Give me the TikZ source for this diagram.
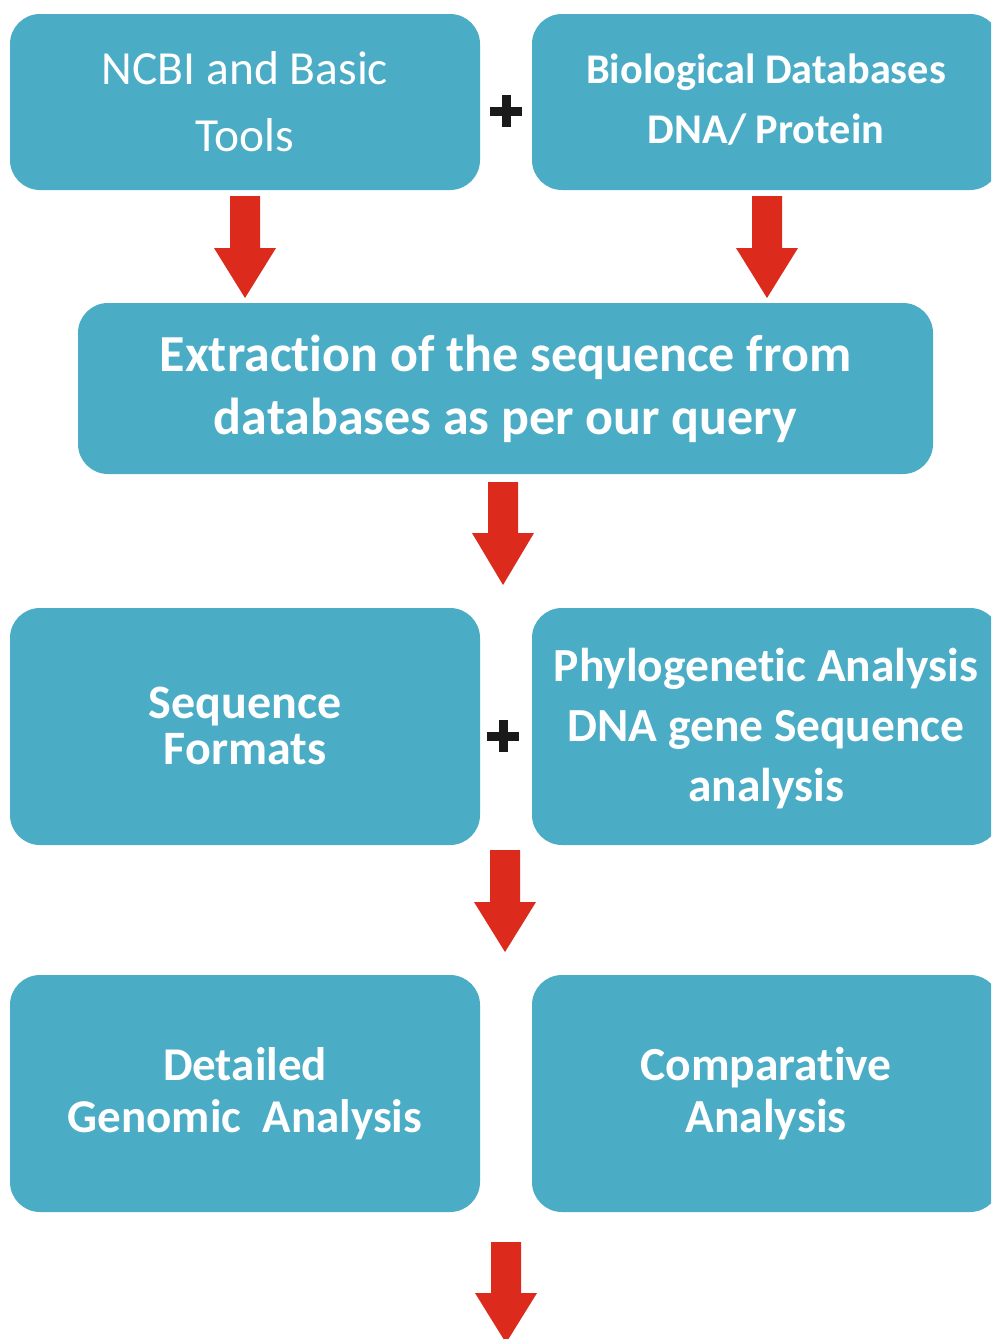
\documentclass[tikz,border=0pt]{standalone}
\usepackage{fontspec}
\setmainfont{Carlito}[Ligatures={NoCommon}]
\definecolor{boxteal}{HTML}{4BACC6}
\definecolor{arrowred}{HTML}{DC2B1C}
\definecolor{plusblack}{HTML}{1A1A1A}
\newcommand\redarrow[4]{% x, ytop, yheadstart, ytip
  \fill[arrowred] (#1-15,#2) -- (#1+15,#2) -- (#1+15,#3) -- (#1+31,#3) -- (#1,#4) -- (#1-31,#3) -- (#1-15,#3) -- cycle;}
\begin{document}
\begin{tikzpicture}[x=1pt,y=-1pt,
  box/.style={fill=boxteal,rounded corners=30pt,inner sep=0pt},
  boxtext/.style={text=white,align=center,inner sep=0pt},
  plusmark/.style={draw=plusblack,line width=9pt}]
\useasboundingbox (0,0) rectangle (991,1339);
\clip (0,0) rectangle (991,1339);
% boxes
\node[box,minimum width=470pt,minimum height=176pt] (ncbi) at (245,102) {};
\node[box,minimum width=468pt,minimum height=176pt] (bio) at (766,102) {};
\node[box,minimum width=855pt,minimum height=171pt] (extr) at (505.5,388.5) {};
\node[box,minimum width=470pt,minimum height=237pt] (seq) at (245,726.5) {};
\node[box,minimum width=468pt,minimum height=237pt] (phylo) at (766,726.5) {};
\node[box,minimum width=470pt,minimum height=237pt] (detail) at (245,1093.5) {};
\node[box,minimum width=468pt,minimum height=237pt] (comp) at (766,1093.5) {};
% texts
\node[boxtext,font=\fontsize{47.5}{67}\selectfont] (ncbiT) at (ncbi.center) {NCBI and Basic\\Tools};
\node[boxtext,font=\bfseries\fontsize{42.3}{60}\selectfont] (bioT) at ([yshift=2pt]bio.center) {Biological Databases\\DNA/ Protein};
\node[boxtext,font=\bfseries\fontsize{52}{63}\selectfont] (extrT) at (extr.center) {Extraction of the sequence from\\databases as per our query};
\node[boxtext,font=\bfseries\fontsize{48}{46}\selectfont] (seqT) at ([yshift=1pt]seq.center) {Sequence\\Formats};
\node[boxtext,font=\bfseries\fontsize{47.5}{60}\selectfont] (phyloT) at ([yshift=-2pt]phylo.center) {Phylogenetic Analysis\\DNA gene Sequence\\analysis};
\node[boxtext,font=\bfseries\fontsize{47}{52}\selectfont] (detailT) at (detail.center) {Detailed\\Genomic\ \ Analysis};
\node[boxtext,font=\bfseries\fontsize{47.5}{52}\selectfont] (compT) at (comp.center) {Comparative\\Analysis};
% plus signs
\coordinate (p1) at (506,111);
\coordinate (p2) at (503,736);
\draw[plusmark] ([xshift=-16pt]p1) -- ([xshift=16pt]p1) ([yshift=-16pt]p1) -- ([yshift=16pt]p1);
\draw[plusmark] ([xshift=-16pt]p2) -- ([xshift=16pt]p2) ([yshift=-16pt]p2) -- ([yshift=16pt]p2);
% arrows
\redarrow{245}{196}{248}{298}
\redarrow{767}{196}{248}{298}
\redarrow{503}{482}{533}{585}
\redarrow{505}{850}{902}{952}
\redarrow{506}{1242}{1293}{1343}
\end{tikzpicture}
\end{document}
